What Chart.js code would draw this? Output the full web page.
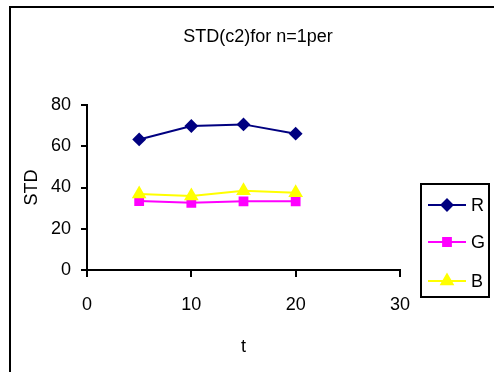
<!DOCTYPE html>
<html>
<head>
<meta charset="utf-8">
<script src="https://cdn.jsdelivr.net/npm/chart.js@4.4.1/dist/chart.umd.min.js"></script>
<style>
  html, body { margin: 0; padding: 0; background: #fff; overflow: hidden; }
  canvas { display: block; }
</style>
</head>
<body>
<canvas id="myChart" width="494" height="372"></canvas>
<script>
// values
const tValues = [5, 10, 15, 20]
const rValues = [63.3, 69.8, 70.6, 66.1]
const gValues = [33.4, 32.6, 33.3, 33.3]
const bValues = [36.8, 35.9, 38.4, 37.5]
const seriesNames = ['R', 'G', 'B']
const xTicks = [0, 10, 20, 30]
const yTicks = [0, 20, 40, 60, 80]

const fontFam = '"Liberation Sans", Arial, sans-serif'

function points(ys) {
    return tValues.map((t, i) => ({ x: t, y: ys[i] }))
}

// frame round the whole picture + the boxed legend on the right
const framePlugin = {
    id: 'frame',
    beforeDraw(chart) {
        let ctx = chart.ctx
        ctx.save()
        ctx.fillStyle = '#fff'
        ctx.fillRect(0, 0, chart.width, chart.height)
        ctx.strokeStyle = '#000'
        ctx.lineWidth = 2
        ctx.strokeRect(10, 7, 600, 500)
        ctx.restore()
    },
    afterDraw(chart) {
        let ctx = chart.ctx
        ctx.save()
        ctx.strokeStyle = '#000'
        ctx.lineWidth = 2
        ctx.strokeRect(421, 184, 68, 113)
        let rows = [205, 242, 281]
        chart.data.datasets.forEach((ds, i) => {
            let y = rows[i]
            ctx.strokeStyle = ds.borderColor
            ctx.lineWidth = 2
            ctx.beginPath()
            ctx.moveTo(428, y)
            ctx.lineTo(466, y)
            ctx.stroke()
            ctx.fillStyle = ds.pointBackgroundColor
            ctx.strokeStyle = ds.pointBorderColor
            Chart.helpers.drawPoint(ctx, {
                pointStyle: ds.pointStyle,
                radius: ds.pointRadius,
                borderWidth: 1,
                rotation: 0
            }, 447, y)
            ctx.fillStyle = '#000'
            ctx.font = '18px ' + fontFam
            ctx.textAlign = 'left'
            ctx.textBaseline = 'middle'
            ctx.fillText(ds.label, 471, y + 1)
        })
        ctx.restore()
    }
}

new Chart(document.getElementById('myChart'), {
    type: 'line',
    data: {
        datasets: [
            {
                label: seriesNames[0],
                data: points(rValues),
                borderColor: '#000080',
                backgroundColor: '#000080',
                pointBackgroundColor: '#000080',
                pointBorderColor: '#000080',
                pointStyle: 'rectRot',
                pointRadius: 5.5,
                borderWidth: 2,
                order: 3
            },
            {
                label: seriesNames[1],
                data: points(gValues),
                borderColor: '#ff00ff',
                backgroundColor: '#ff00ff',
                pointBackgroundColor: '#ff00ff',
                pointBorderColor: '#ff00ff',
                pointStyle: 'rect',
                pointRadius: 5.5,
                borderWidth: 2,
                order: 2
            },
            {
                label: seriesNames[2],
                data: points(bValues),
                borderColor: '#ffff00',
                backgroundColor: '#ffff00',
                pointBackgroundColor: '#ffff00',
                pointBorderColor: '#ffff00',
                pointStyle: 'triangle',
                pointRadius: 6.5,
                borderWidth: 2,
                order: 1
            }
        ]
    },
    options: {
        responsive: false,
        animation: false,
        devicePixelRatio: 1,
        layout: { padding: { left: 22, right: 0, top: 0, bottom: 0 } },
        plugins: {
            legend: { display: false },
            tooltip: { enabled: false },
            title: {
                display: true,
                text: 'STD(c2)for n=1per',
                color: '#000',
                font: { family: fontFam, size: 18, weight: 'normal', lineHeight: 1.2 },
                padding: { top: 26, bottom: 57.4 }
            }
        },
        scales: {
            x: {
                type: 'linear',
                min: xTicks[0],
                max: xTicks[xTicks.length - 1],
                afterBuildTicks(s) { s.ticks = xTicks.map(v => ({ value: v })) },
                afterFit(s) { s.height = 102; s.paddingLeft = 0; s.paddingRight = 0 },
                grid: { drawOnChartArea: false, drawTicks: true, tickLength: 7, color: '#000', lineWidth: 2 },
                border: { color: '#000', width: 2 },
                ticks: { color: '#000', font: { family: fontFam, size: 18 }, padding: 17, maxRotation: 0 },
                title: {
                    display: true, text: 't', color: '#000',
                    font: { family: fontFam, size: 18, lineHeight: 1.2 },
                    padding: { top: 0, bottom: 14 }
                }
            },
            y: {
                type: 'linear',
                min: yTicks[0],
                max: yTicks[yTicks.length - 1],
                afterBuildTicks(s) { s.ticks = yTicks.map(v => ({ value: v })) },
                afterFit(s) { s.width = 65; s.paddingTop = 0; s.paddingBottom = 0 },
                grid: { drawOnChartArea: false, drawTicks: true, tickLength: 6, color: '#000', lineWidth: 2 },
                border: { color: '#000', width: 2 },
                ticks: { color: '#000', font: { family: fontFam, size: 18 }, padding: 10 },
                title: {
                    display: true, text: 'STD', color: '#000',
                    font: { family: fontFam, size: 18, lineHeight: 1 },
                    padding: { top: 1, bottom: 0 }
                }
            },
            // empty axis that only keeps room for the legend box on the right
            room: {
                type: 'linear',
                position: 'right',
                display: true,
                grid: { display: false },
                border: { display: false },
                ticks: { display: false },
                afterFit(s) { s.width = 94; s.paddingTop = 0; s.paddingBottom = 0 }
            }
        }
    },
    plugins: [framePlugin]
})
</script>
</body>
</html>
